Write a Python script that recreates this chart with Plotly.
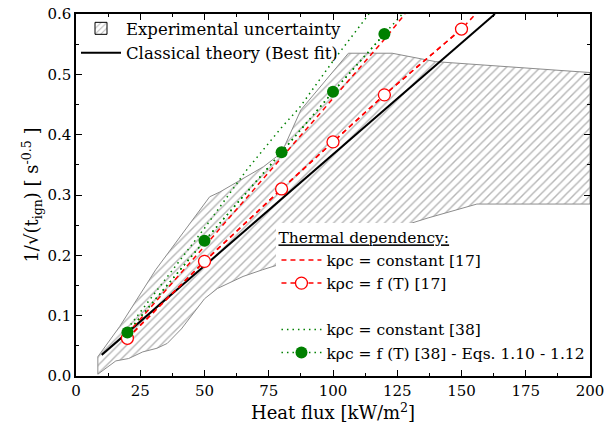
import plotly.graph_objects as go

# ---- data ----
band_upper_x = [8.5, 17, 31, 52, 56, 73, 80, 87.5, 106, 123, 140, 200]
band_upper_y = [0.032, 0.082, 0.176, 0.297, 0.305, 0.347, 0.370, 0.441, 0.535, 0.535, 0.521, 0.503]
band_lower_x = [8.5, 15.5, 20.5, 26, 31.5, 35.5, 41, 50, 55, 65, 72.5, 78, 128, 137, 156, 200]
band_lower_y = [0.003, 0.025, 0.029, 0.040, 0.046, 0.054, 0.078, 0.128, 0.145, 0.165, 0.176, 0.184, 0.250, 0.262, 0.285, 0.285]

classical_x = [10, 163]
classical_y = [0.035, 0.600]

const17_x = [20, 50, 80, 100, 120, 128]
const17_y = [0.070, 0.215, 0.362, 0.460, 0.558, 0.600]

fT17_line_x = [20, 50, 80, 100, 120, 150, 155.5]
fT17_line_y = [0.0625, 0.190, 0.310, 0.388, 0.466, 0.575, 0.600]
fT17_pts_x = [20, 50, 80, 100, 120, 150]
fT17_pts_y = [0.0625, 0.190, 0.310, 0.388, 0.466, 0.575]

const38_x = [20, 50, 66.5, 80, 87, 100, 114]
const38_y = [0.078, 0.245, 0.342, 0.412, 0.445, 0.522, 0.600]

fT38_line_x = [20, 50, 80, 100, 120, 127]
fT38_line_y = [0.072, 0.224, 0.371, 0.471, 0.567, 0.600]
fT38_pts_x = [20, 50, 80, 100, 120]
fT38_pts_y = [0.072, 0.224, 0.371, 0.471, 0.567]

FONT = "DejaVu Serif"
HATCH = "#6e6e6e"

fig = go.Figure()

# experimental uncertainty band (hatched)
poly_x = band_upper_x + band_lower_x[::-1] + [band_upper_x[0]]
poly_y = band_upper_y + band_lower_y[::-1] + [band_upper_y[0]]
fig.add_trace(go.Scatter(
    x=poly_x, y=poly_y, mode="lines", fill="toself",
    line=dict(color="#8c8c8c", width=1),
    fillcolor="white",
    fillpattern=dict(shape="/", fgcolor=HATCH, bgcolor="white", size=6, solidity=0.24),
    showlegend=False, hoverinfo="skip"))

# legend key for the band (hatched box)
fig.add_trace(go.Bar(
    x=[None], y=[None],
    marker=dict(color="white", line=dict(color="black", width=1),
                pattern=dict(shape="/", fgcolor=HATCH, bgcolor="white", size=5, solidity=0.25)),
    name="Experimental uncertainty", legend="legend"))

fig.add_trace(go.Scatter(
    x=classical_x, y=classical_y, mode="lines",
    line=dict(color="black", width=2),
    name="Classical theory (Best fit)", legend="legend"))

red = "#ff0000"
green = "#008000"

fig.add_trace(go.Scatter(
    x=const17_x, y=const17_y, mode="lines",
    line=dict(color=red, width=1.5, dash="5px,4px"),
    name="kρc = constant [17]", legend="legend2"))

fig.add_trace(go.Scatter(
    x=fT17_line_x, y=fT17_line_y, mode="lines",
    line=dict(color=red, width=1.5, dash="5px,4px"),
    showlegend=False))
fig.add_trace(go.Scatter(
    x=fT17_pts_x, y=fT17_pts_y, mode="lines+markers",
    line=dict(color=red, width=1.5, dash="5px,4px"),
    marker=dict(symbol="circle", size=12, color="white", line=dict(color=red, width=1.3)),
    name="kρc = f (T) [17]", legend="legend2"))

# blank legend spacer
fig.add_trace(go.Scatter(
    x=[None], y=[None], mode="lines", line=dict(color="rgba(0,0,0,0)"),
    name=" ", legend="legend2"))

fig.add_trace(go.Scatter(
    x=const38_x, y=const38_y, mode="lines",
    line=dict(color=green, width=1.5, dash="1.5px,4px"),
    name="kρc = constant [38]", legend="legend2"))

fig.add_trace(go.Scatter(
    x=fT38_line_x, y=fT38_line_y, mode="lines",
    line=dict(color=green, width=1.5, dash="1.5px,4px"),
    showlegend=False))
fig.add_trace(go.Scatter(
    x=fT38_pts_x, y=fT38_pts_y, mode="lines+markers",
    line=dict(color=green, width=1.5, dash="1.5px,4px"),
    marker=dict(symbol="circle", size=12, color=green, line=dict(width=0)),
    name="kρc = f (T) [38] - Eqs. 1.10 - 1.12", legend="legend2"))

axis_common = dict(
    showline=True, linecolor="black", linewidth=1.5, mirror="allticks",
    ticks="inside", ticklen=6, tickwidth=1.2, tickcolor="black",
    showgrid=False, zeroline=False, ticklabeloverflow="allow",
    tickfont=dict(family=FONT, size=15, color="black"),
)

fig.update_layout(
    width=604, height=432,
    margin=dict(l=76, r=14, t=14, b=56, autoexpand=False),
    paper_bgcolor="white", plot_bgcolor="white",
    font=dict(family=FONT, size=15, color="black"),
    xaxis=dict(range=[0, 200], dtick=25, tick0=0,
               minor=dict(dtick=12.5, ticks="inside", ticklen=3, tickcolor="black"),
               title=dict(text="Heat flux [kW/m<sup>2</sup>]", font=dict(family=FONT, size=18), standoff=4),
               **axis_common),
    yaxis=dict(range=[0, 0.6], dtick=0.1, tick0=0, tickformat=".1f",
               minor=dict(dtick=0.05, ticks="inside", ticklen=3, tickcolor="black"),
               title=dict(text="1/√(t<sub>ign</sub>) [ s<sup>-0.5</sup> ]", font=dict(family=FONT, size=18), standoff=4),
               **axis_common),
    legend=dict(x=0.0, y=1.008, xanchor="left", yanchor="top",
                bgcolor="rgba(0,0,0,0)", borderwidth=0,
                font=dict(family=FONT, size=16.5), tracegroupgap=0, itemwidth=40),
    legend2=dict(x=0.39, y=0.422, xanchor="left", yanchor="top",
                 bgcolor="white", borderwidth=0,
                 font=dict(family=FONT, size=15.5), tracegroupgap=0, itemwidth=40,
                 title=dict(text="Thermal dependency:", side="top",
                            font=dict(family=FONT, size=15.5, lineposition="under"))),
    showlegend=True,
)

fig.write_html("out.html")
